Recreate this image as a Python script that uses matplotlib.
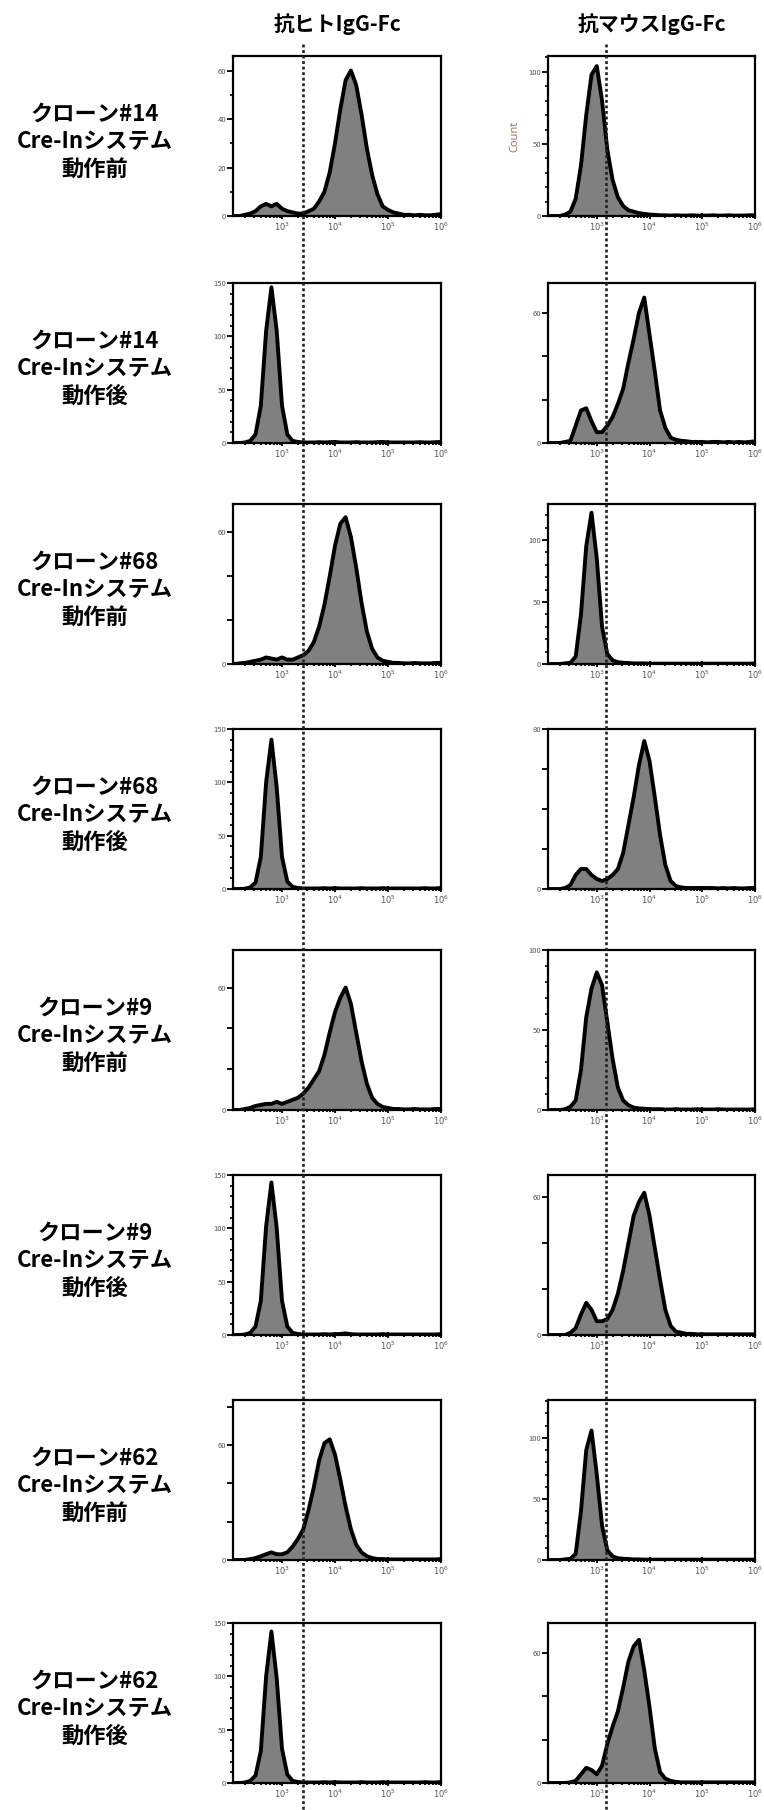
import numpy as np
import matplotlib
matplotlib.use("Agg")
import matplotlib.pyplot as plt
from matplotlib.lines import Line2D
from matplotlib.ticker import FixedLocator, LogLocator, NullFormatter, FixedFormatter

plt.rcParams['font.family'] = ['Noto Sans CJK JP', 'DejaVu Sans']

# ---------------- data ----------------
col_titles = ["抗ヒトIgG-Fc", "抗マウスIgG-Fc"]
row_labels = [
    "クローン#14\nCre-Inシステム\n動作前",
    "クローン#14\nCre-Inシステム\n動作後",
    "クローン#68\nCre-Inシステム\n動作前",
    "クローン#68\nCre-Inシステム\n動作後",
    "クローン#9\nCre-Inシステム\n動作前",
    "クローン#9\nCre-Inシステム\n動作後",
    "クローン#62\nCre-Inシステム\n動作前",
    "クローン#62\nCre-Inシステム\n動作後",
]
# bin centres (log10 of fluorescence intensity)
log_bins = np.round(np.arange(2.1, 6.05, 0.1), 2)
gate_thresholds = [2450, 1510]   # dotted gate, left / right column

# histogram counts (40 bins each) : human IgG-Fc (left column)
human = [
    [0,0,0.5,1,2,4,5,4,5,3, 2,1.5,1,1,2,3,6,10,18,30, 44,56,60,54,42,28,17,9,4,2.5, 1.5,1,0.5,0.5,0.3,0.5,0.3,0.3,0.5,0.8],
    [0,0,0.5,2,8,35,105,146,105,35, 8,2,1,0.5,0.5,0.5,0.8,0.5,0.8,1, 0.5,0.5,0.5,0.8,0.5,0.5,0.5,0.8,1,0.5, 0.5,0.5,0.5,0.5,0.5,0.8,0.5,0.5,0.8,1],
    [0,0.3,0.5,1,1.5,2,3,2.5,2,3, 2,2,3,4,6,10,17,27,40,54, 64,67,58,44,28,15,7,3,1.5,1, 0.5,0.5,0.3,0.3,0.5,0.3,0.3,0.3,0.5,0.5],
    [0,0,0.3,1.5,6,30,100,140,95,30, 7,2,1,0.5,0.5,0.5,0.5,0.8,0.5,0.8, 0.5,0.5,0.5,0.5,0.8,0.5,0.5,0.5,0.8,0.5, 0.5,0.5,0.5,0.5,0.5,0.5,0.8,0.5,0.5,1],
    [0,0,0.5,1,2,2.5,3,3,4,3, 4,5,6,8,11,15,19,27,38,48, 55,60,52,38,24,13,6,3,1.5,1, 0.5,0.5,0.3,0.3,0.5,0.3,0.3,0.3,0.5,0.5],
    [0,0,0.5,2,8,32,102,143,100,32, 8,2,1,0.5,0.5,0.5,0.5,0.8,0.5,0.8, 1,1.5,0.8,0.5,0.5,0.5,0.5,0.5,0.8,0.5, 0.5,0.5,0.5,0.5,0.5,0.5,0.5,0.5,0.5,0.8],
    [0,0,0,0.5,1,2,3,4,3,3, 4,7,11,16,26,38,52,61,63,55, 42,28,16,8,4,2,1,0.5,0.5,0.3, 0.3,0.3,0.3,0.3,0.3,0.3,0.3,0.3,0.3,0.5],
    [0,0,0.5,2,7,30,100,142,98,32, 8,2,1,0.5,0.5,0.5,0.5,0.8,0.5,0.8, 0.5,0.5,0.5,0.5,0.8,0.5,0.5,0.5,0.8,0.5, 0.5,0.5,0.5,0.5,0.5,0.5,0.8,0.5,0.5,1],
]
# histogram counts : mouse IgG-Fc (right column)
mouse = [
    [0,0,0,1,3,12,35,70,98,104, 80,46,25,13,7,4,3,2,1.5,1, 0.8,0.5,0.5,0.3,0.5,0.3,0.3,0.5,0.3,0.3, 0.3,0.5,0.3,0.3,0.5,0.3,0.3,0.3,0.5,0.5],
    [0,0,0,0.5,1,8,15,16,10,5, 5,8,12,18,25,37,48,60,67,50, 33,15,7,2.5,1.5,1,0.8,0.5,0.5,0.5, 0.3,0.5,0.5,0.3,0.5,0.3,0.5,0.3,0.5,0.8],
    [0,0,0,0.5,1,6,40,95,122,85, 30,8,3,1.5,1,0.8,0.5,0.5,0.5,0.3, 0.3,0.3,0.3,0.3,0.3,0.3,0.3,0.3,0.3,0.3, 0.3,0.3,0.3,0.3,0.3,0.3,0.3,0.3,0.3,0.5],
    [0,0,0,0.5,2,7,10,10,7,5, 4,5,7,10,18,32,46,62,74,64, 46,27,12,4,1.5,0.8,0.5,0.5,0.5,0.5, 0.5,0.5,0.3,0.5,0.3,0.5,0.3,0.3,0.5,0.5],
    [0,0,0,0.5,2,6,25,58,76,86, 78,55,32,14,6,3,1.5,1,0.8,0.5, 0.5,0.5,0.3,0.3,0.5,0.3,0.3,0.3,0.5,0.3, 0.3,0.3,0.5,0.3,0.3,0.3,0.3,0.3,0.3,0.5],
    [0,0,0,0,1,3,9,14,11,6, 6,7,11,18,28,40,52,58,62,52, 38,24,11,4,1.5,1,0.5,0.5,0.3,0.3, 0.3,0.3,0.3,0.3,0.3,0.3,0.3,0.3,0.3,0.3],
    [0,0,0,0.5,1,5,40,90,106,70, 28,8,3,1.5,1,0.8,0.5,0.5,0.3,0.3, 0.3,0.3,0.3,0.3,0.3,0.3,0.3,0.3,0.3,0.3, 0.3,0.3,0.3,0.3,0.3,0.3,0.3,0.3,0.3,0.3],
    [0,0,0,0,0.3,1,4,7,6,4, 8,18,26,33,44,56,63,66,52,35, 16,5,2,1,0.5,0.3,0.3,0.3,0.3,0.3, 0.3,0.3,0.3,0.3,0.3,0.3,0.3,0.3,0.3,0.3],
]
# y-axis ranges / ticks per panel: (ymax, major ticks, labelled ticks, minor step)
y_human = [
    (66, [0,20,40,60], [0,20,40,60], 10),
    (150, [0,50,100,150], [0,50,100,150], 10),
    (73, [0,20,40,60], [0,60], None),
    (150, [0,50,100,150], [0,50,100,150], 10),
    (78.4, [0,20,40,60], [0,60], None),
    (150, [0,50,100,150], [0,50,100,150], 10),
    (83.5, [0,20,40,60,80], [0,60], None),
    (150, [0,50,100,150], [0,50,100,150], 10),
]
y_mouse = [
    (111, [0,50,100], [0,50,100], 10),
    (73.7, [0,20,40,60], [0,60], None),
    (129, [0,50,100], [0,50,100], 10),
    (80, [0,20,40,60,80], [0,80], None),
    (100, [0,50,100], [0,50,100], 10),
    (69.7, [0,20,40,60], [0,60], None),
    (131, [0,50,100], [0,50,100], 10),
    (73.7, [0,20,40,60], [0,60], None),
]
x_major = [1e3, 1e4, 1e5, 1e6]
x_major_labels = ["$10^3$", "$10^4$", "$10^5$", "$10^6$"]

# ---------------- layout ----------------
W, H = 764, 1810
fig = plt.figure(figsize=(W / 100, H / 100), dpi=100)
fig.patch.set_facecolor("white")

col_x = [233, 548]
col_w = [208, 207]
row_top = [56, 283, 504, 729, 950, 1175, 1400, 1623]
panel_h = 160
xmin = 10 ** 2.075
xmax = 1e6

x_vals = 10 ** log_bins
tick_col = "#555555"

def make_panel(ax, counts, ycfg):
    ymax, majors, labelled, minor_step = ycfg
    y = np.array(counts, dtype=float)
    ax.fill_between(x_vals, 0, y, color="#808080", lw=0, zorder=2)
    ax.plot(x_vals, y, color="black", lw=2.8, zorder=3, solid_joinstyle="round")
    ax.set_xscale("log")
    ax.set_xlim(xmin, xmax)
    ax.set_ylim(0, ymax)
    for s in ax.spines.values():
        s.set_linewidth(1.6)
        s.set_color("black")
    ax.xaxis.set_major_locator(FixedLocator(x_major))
    ax.xaxis.set_major_formatter(FixedFormatter(x_major_labels))
    ax.xaxis.set_minor_locator(LogLocator(base=10, subs=np.arange(2, 10)))
    ax.xaxis.set_minor_formatter(NullFormatter())
    ax.tick_params(axis="x", which="major", direction="inout", length=5, width=1.3,
                   labelsize=6, labelcolor=tick_col, pad=1)
    ax.tick_params(axis="x", which="minor", direction="inout", length=3.5, width=1.3)
    ax.yaxis.set_major_locator(FixedLocator(majors))
    ax.yaxis.set_major_formatter(FixedFormatter([str(m) if m in labelled else "" for m in majors]))
    if minor_step:
        ax.yaxis.set_minor_locator(FixedLocator(np.arange(0, ymax, minor_step)))
    ax.tick_params(axis="y", which="major", direction="out", length=4, width=1.3,
                   labelsize=5.5, labelcolor=tick_col, pad=1)
    ax.tick_params(axis="y", which="minor", direction="out", length=2.5, width=1.2)
    ax.set_facecolor("white")

axes_grid = []
for r in range(8):
    row_axes = []
    for c in range(2):
        left = col_x[c] / W
        bottom = 1 - (row_top[r] + panel_h) / H
        ax = fig.add_axes([left, bottom, col_w[c] / W, panel_h / H])
        data = human[r] if c == 0 else mouse[r]
        ycfg = y_human[r] if c == 0 else y_mouse[r]
        make_panel(ax, data, ycfg)
        row_axes.append(ax)
    axes_grid.append(row_axes)
    yc = 1 - (row_top[r] + panel_h / 2 + 6) / H
    fig.text(95 / W, yc, row_labels[r], ha="center", va="center", fontsize=16,
             fontweight="bold", linespacing=1.25, multialignment="center")

axes_grid[0][1].set_ylabel("Count", fontsize=8, color="#8a6f60", labelpad=6,
                           family=["Open Sans", "DejaVu Sans"])

# column titles
for c in range(2):
    cx = (col_x[c] + col_w[c] / 2) / W
    fig.text(cx, 1 - 24 / H, col_titles[c], ha="center", va="center", fontsize=15,
             fontweight="bold")

# dotted gate lines spanning the whole column
for c in range(2):
    ax = axes_grid[0][c]
    xd = ax.transData.transform((gate_thresholds[c], 1))[0]
    xf = fig.transFigure.inverted().transform((xd, 0))[0]
    ln = Line2D([xf, xf], [1 - 44 / H, 0], transform=fig.transFigure, color="#222222",
                lw=1.9, linestyle=(0, (1.1, 1.0)), zorder=10)
    fig.add_artist(ln)

fig.savefig("out.png", dpi=100, facecolor="white")
